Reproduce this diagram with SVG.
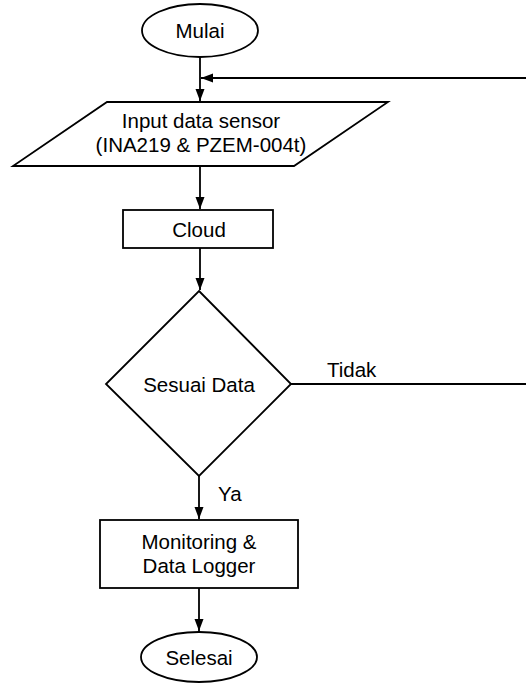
<svg xmlns="http://www.w3.org/2000/svg" width="526" height="683" viewBox="0 0 526 683">
<defs>
<marker id="ah" markerWidth="12" markerHeight="12" refX="12" refY="6" orient="auto" markerUnits="userSpaceOnUse">
<path d="M0,1.5 L12,6 L0,10.5 Z" fill="#000"/>
</marker>
<style>
.s{fill:#fff;stroke:#000;stroke-width:1.8}
.t{font-family:"Liberation Sans",Arial,sans-serif;font-size:20.5px;fill:#000;text-anchor:middle}
.l{font-family:"Liberation Sans",Arial,sans-serif;font-size:20.5px;fill:#000}
.c{fill:none;stroke:#000;stroke-width:1.8}
</style>
</defs>
<rect width="526" height="683" fill="#fff"/>
<g id="connectors">
<line class="c" x1="200" y1="57" x2="200" y2="101" marker-end="url(#ah)"/>
<line class="c" x1="526" y1="78" x2="201" y2="78" marker-end="url(#ah)"/>
<line class="c" x1="200" y1="166" x2="200" y2="209" marker-end="url(#ah)"/>
<line class="c" x1="200" y1="248" x2="200" y2="290" marker-end="url(#ah)"/>
<line class="c" x1="291" y1="384" x2="526" y2="384"/>
<line class="c" x1="199" y1="476" x2="199" y2="519" marker-end="url(#ah)"/>
<line class="c" x1="199" y1="588" x2="199" y2="631" marker-end="url(#ah)"/>
<text class="l" x="327" y="377">Tidak</text>
<text class="l" x="218" y="501">Ya</text>
</g>
<g id="mulai">
<ellipse class="s" cx="200" cy="30.5" rx="58" ry="26.5"/>
<text class="t" x="200" y="38">Mulai</text>
</g>
<g id="input">
<polygon class="s" points="107,102 388,102 294,166 13,166"/>
<text class="t" x="201" y="128">Input data sensor</text>
<text class="t" x="201" y="152">(INA219 &amp; PZEM-004t)</text>
</g>
<g id="cloud">
<rect class="s" x="123" y="210" width="150" height="38"/>
<text class="t" x="199" y="237">Cloud</text>
</g>
<g id="decision">
<polygon class="s" points="199,291 291,384 199,476 106,384"/>
<text class="t" x="199" y="392">Sesuai Data</text>
</g>
<g id="monitoring">
<rect class="s" x="100" y="520" width="198" height="68"/>
<text class="t" x="199" y="549">Monitoring &amp;</text>
<text class="t" x="199" y="573">Data Logger</text>
</g>
<g id="selesai">
<ellipse class="s" cx="199" cy="657" rx="58" ry="25"/>
<text class="t" x="199" y="665">Selesai</text>
</g>
</svg>
